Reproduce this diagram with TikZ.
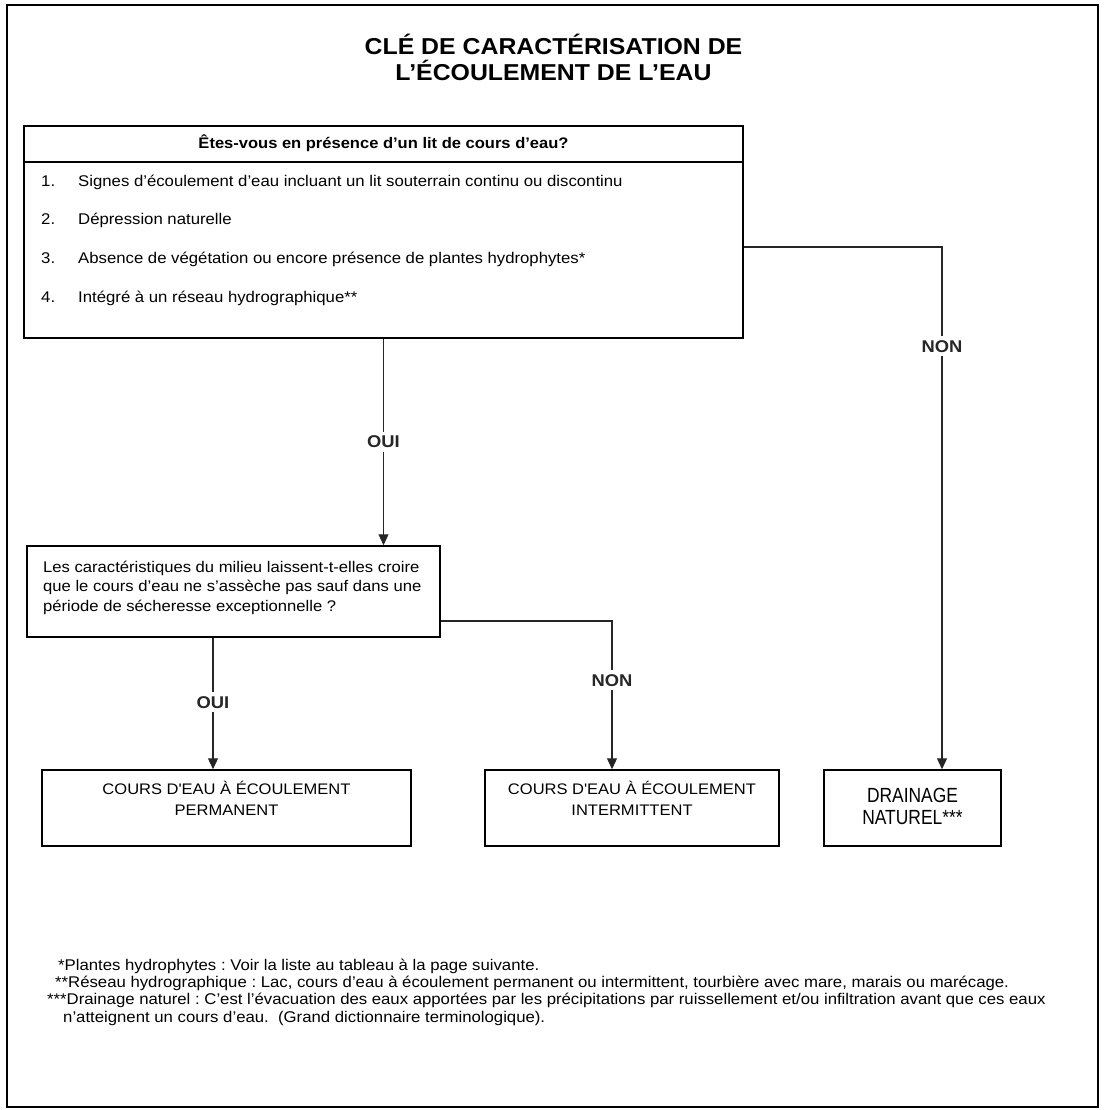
\documentclass[tikz,border=0pt]{standalone}
\usepackage{fontspec}
\setmainfont{Liberation Sans}[FakeStretch=1.08]
\newfontfamily\narrowfont{Liberation Sans}[FakeStretch=0.85]
\usetikzlibrary{positioning, arrows.meta}
\frenchspacing

\begin{document}
\begin{tikzpicture}[
        x=1pt, y=-1pt,
        every node/.style={inner sep=0pt},
        box/.style={rectangle, draw, line width=1.5pt, inner sep=0pt},
        txt/.style={anchor=base west, font=\fontsize{15.5}{19}\selectfont},
        res/.style={anchor=base, align=center, font=\fontsize{15.3}{21}\selectfont},
        note/.style={anchor=base west, font=\fontsize{15.5}{17}\selectfont},
        lbl/.style={fill=white, inner sep=4pt, font=\fontsize{17}{20}\selectfont\bfseries},
        flow/.style={-{Triangle[length=11pt, width=10pt]}, line width=1.2pt, black!85},
    ]
%
    % Page frame
    \useasboundingbox (0, 0) rectangle (1103, 1110);
    \draw[line width=1.8pt] (7, 5) rectangle (1098, 1107);
%
    % Title
    \node[anchor=base, align=center, font=\fontsize{23}{26}\selectfont\bfseries] (title) at (553.5, 81) {CLÉ DE CARACTÉRISATION DE\\L’ÉCOULEMENT DE L’EAU};
%
    % First question
    \node[box, minimum width=719pt, minimum height=212pt] (lit) at (383.5, 232) {};
    \coordinate (hdr) at (0, 162);
    \draw[line width=2.6pt] (lit.west |- hdr) -- (lit.east |- hdr);
    \node[anchor=base, font=\fontsize{15.3}{18}\selectfont\bfseries] (litq) at (383.5, 149) {Êtes-vous en présence d’un lit de cours d’eau?};
    \foreach \n/\y/\t in {1/186/{Signes d’écoulement d’eau incluant un lit souterrain continu ou discontinu}, 2/224/{Dépression naturelle}, 3/263/{Absence de végétation ou encore présence de plantes hydrophytes*}, 4/302/{Intégré à un réseau hydrographique**}} {
        \node[txt] (num\n) at (41, \y) {\n.};
        \node[txt] (item\n) at (78, \y) {\t};
    }
%
    % Second question
    \node[box, minimum width=413pt, minimum height=91pt] (milieu) at (233.5, 591.5) {};
    \node[txt, align=left, font=\fontsize{15.4}{19.5}\selectfont] (milieuq) at (43, 611) {Les caractéristiques du milieu laissent-t-elles croire\\que le cours d’eau ne s’assèche pas sauf dans une\\période de sécheresse exceptionnelle ?};
%
    % Results
    \node[box, minimum width=369pt, minimum height=76pt] (perm) at (226.5, 808) {};
    \node[box, minimum width=294pt, minimum height=76pt] (interm) at (632, 808) {};
    \node[box, minimum width=177pt, minimum height=76pt] (drain) at (912.5, 808) {};
    \node[res] (permtxt) at (226.5, 815) {COURS D\textquotesingle EAU À ÉCOULEMENT\\PERMANENT};
    \node[res] (intermtxt) at (632, 815) {COURS D\textquotesingle EAU À ÉCOULEMENT\\INTERMITTENT};
    \node[res, font=\fontsize{20.5}{22}\narrowfont] (draintxt) at (912.5, 824) {DRAINAGE\\NATUREL***};
%
    % Connectors
    \coordinate (nonA) at (942, 247);
    \coordinate (nonB) at (612, 621);
    \coordinate (ouiB) at (213, 0);
    \draw[flow] (lit.south) -- node[lbl, pos=0.5] (ouiAlbl) {OUI} (lit.south |- milieu.north);
    \draw[flow] (lit.east |- nonA) -- (nonA) -- node[lbl, pos=0.19] (nonAlbl) {NON} (nonA |- drain.north);
    \draw[flow] (milieu.east |- nonB) -- (nonB) -- node[lbl, pos=0.4] (nonBlbl) {NON} (nonB |- interm.north);
    \draw[flow] (ouiB |- milieu.south) -- node[lbl, pos=0.49] (ouiBlbl) {OUI} (ouiB |- perm.north);
%
    % Notes
    \node[note] (fn1) at (58, 970) {*Plantes hydrophytes : Voir la liste au tableau à la page suivante.};
    \node[note] (fn2) at (55, 987) {**Réseau hydrographique : Lac, cours d’eau à écoulement permanent ou intermittent, tourbière avec mare, marais ou marécage.};
    \node[note] (fn3) at (47, 1004) {***Drainage naturel : C’est l’évacuation des eaux apportées par les précipitations par ruissellement et/ou infiltration avant que ces eaux};
    \node[note] (fn4) at (63, 1022) {n’atteignent un cours d’eau.\ \ (Grand dictionnaire terminologique).};
%
\end{tikzpicture}
\end{document}
